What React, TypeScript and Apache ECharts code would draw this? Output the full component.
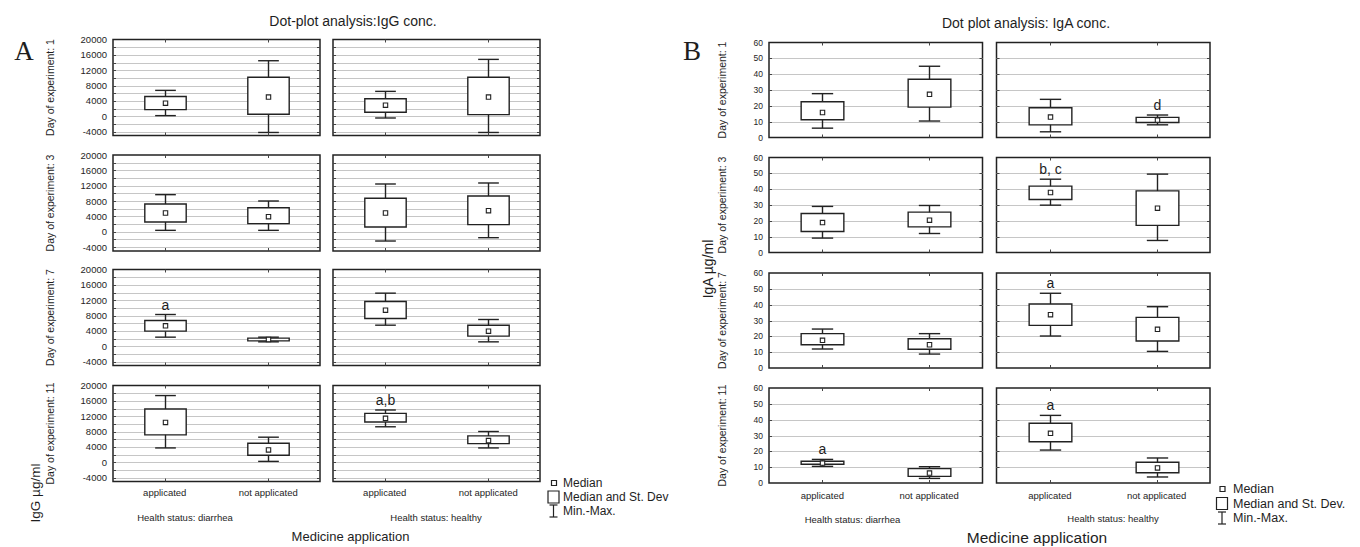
import React, { useEffect, useRef } from 'react';
import * as echarts from 'echarts';

// ---------- data ----------
const days = ['1', '3', '7', '11'];
const treatments = ['applicated', 'not applicated'];
const healthStatuses = ['diarrhea', 'healthy'];

// each entry: [min, median - SD, median, median + SD, max], per day, per treatment
const iggDiarrhea = [
  [[175, 1750, 3420, 5170, 6750], [-4210, 530, 5000, 10170, 14470]],
  [[380, 2550, 4900, 7240, 9670], [380, 2120, 3940, 6280, 8020]],
  [[2380, 3940, 5330, 6720, 8280], [1160, 1420, 1770, 2120, 2380]],
  [[3740, 7150, 10380, 13880, 17380], [240, 1820, 3220, 4960, 6540]],
];
const iggHealthy = [
  [[-440, 1050, 2890, 4560, 6490], [-4210, 440, 5000, 10170, 14820]],
  [[-2400, 1250, 4900, 8720, 12450], [-1530, 1860, 5500, 9320, 12710]],
  [[5500, 7240, 9400, 11670, 13840], [1160, 2640, 3940, 5500, 6980]],
  [[9250, 10480, 11440, 12750, 13620], [3740, 4870, 5660, 6880, 8020]],
];
const igaDiarrhea = [
  [[5.9, 11.2, 15.8, 22.6, 27.7], [10.4, 19.2, 27.3, 36.8, 45]],
  [[9.1, 13.3, 18.9, 24.6, 29.1], [12.0, 16.2, 20.4, 25.5, 29.7]],
  [[12.0, 14.7, 17.5, 21.7, 24.6], [8.8, 11.8, 14.7, 18.5, 21.7]],
  [[10.5, 11.8, 12.6, 13.7, 14.9], [2.9, 4.2, 6.3, 9.1, 10.3]],
];
const igaHealthy = [
  [[3.6, 8.0, 12.9, 18.8, 24.1], [8.0, 9.5, 11.0, 12.7, 14.2]],
  [[29.9, 33.5, 37.9, 41.9, 46.3], [7.6, 17.1, 28.0, 38.9, 49.5]],
  [[20.2, 26.9, 33.7, 40.4, 47.2], [10.5, 17.1, 24.4, 32.0, 38.7]],
  [[20.8, 26.1, 31.4, 37.7, 42.7], [3.8, 6.5, 9.5, 13.1, 15.8]],
];

const iggTickLabels = [-4000, 0, 4000, 8000, 12000, 16000, 20000];
const iggGridValues = [-4000, -2000, 0, 2000, 4000, 6000, 8000, 10000, 12000, 14000, 16000, 18000];
const igaTickLabels = [0, 10, 20, 30, 40, 50, 60];
const igaGridValues = [10, 20, 30, 40, 50];

// significance letters: [dayIndex, healthIndex, treatmentIndex, text]
const iggLetters: [number, number, number, string][] = [
  [2, 0, 0, 'a'],
  [3, 1, 0, 'a,b'],
];
const igaLetters: [number, number, number, string][] = [
  [0, 1, 1, 'd'],
  [1, 1, 0, 'b, c'],
  [2, 1, 0, 'a'],
  [3, 0, 0, 'a'],
  [3, 1, 0, 'a'],
];

// ---------- layout ----------
const FONT = '"Liberation Sans", Arial, sans-serif';
const INK = '#1e1e1e';
const LINE = '#222';

const panels = [
  {
    data: [iggDiarrhea, iggHealthy],
    letters: iggLetters,
    min: -5000, max: 20000, step: 1000,
    tickLabels: iggTickLabels,
    gridValues: iggGridValues,
    lefts: [113, 333], width: 207,
    tops: [39.5, 155, 269.5, 385.5], height: 96,
    tickFont: 9.5, tickMargin: 6, catMargin: 6,
  },
  {
    data: [igaDiarrhea, igaHealthy],
    letters: igaLetters,
    min: 0, max: 60, step: 10,
    tickLabels: igaTickLabels,
    gridValues: igaGridValues,
    lefts: [769, 996.5], width: 213.5,
    tops: [42.5, 157.5, 273, 388], height: 95,
    tickFont: 8.5, tickMargin: 6, catMargin: 7,
  },
];

function buildOption() {
  const grid: any[] = [];
  const xAxis: any[] = [];
  const yAxis: any[] = [];
  const series: any[] = [];
  let g = 0;
  panels.forEach((p) => {
    days.forEach((_, r) => {
      healthStatuses.forEach((_, c) => {
        grid.push({
          left: p.lefts[c], top: p.tops[r], width: p.width, height: p.height,
          show: true, borderColor: LINE, borderWidth: 1.5, backgroundColor: '#fff',
          containLabel: false, outerBoundsMode: 'none',
        });
        xAxis.push({
          type: 'category', gridIndex: g, data: treatments,
          axisLine: { show: false }, axisTick: { show: false }, splitLine: { show: false },
          axisLabel: { show: r === 3, fontSize: 9.5, fontFamily: FONT, color: INK, margin: p.catMargin },
        });
        yAxis.push({
          type: 'value', gridIndex: g, min: p.min, max: p.max, interval: p.step,
          axisLine: { show: false }, axisTick: { show: false }, splitLine: { show: false },
          axisLabel: {
            show: c === 0, fontSize: p.tickFont, fontFamily: FONT, color: INK, margin: p.tickMargin,
            formatter: (v: number) => (p.tickLabels.indexOf(v) >= 0 ? String(v) : ''),
          },
        });
        // gridlines + side ticks
        series.push({
          type: 'custom', xAxisIndex: g, yAxisIndex: g, z: 1, silent: true,
          data: p.gridValues.map((v) => [0, v]),
          encode: { x: 0, y: 1 },
          renderItem: (params: any, api: any) => {
            const cs = params.coordSys;
            const y = Math.round(api.coord([0, api.value(1)])[1]) + 0.5;
            return {
              type: 'group',
              children: [
                { type: 'line', shape: { x1: cs.x, y1: y, x2: cs.x + cs.width, y2: y }, style: { stroke: '#c6c6c6', lineWidth: 1 } },
                { type: 'line', shape: { x1: cs.x, y1: y, x2: cs.x + 3, y2: y }, style: { stroke: '#444', lineWidth: 1 } },
                { type: 'line', shape: { x1: cs.x + cs.width - 3, y1: y, x2: cs.x + cs.width, y2: y }, style: { stroke: '#444', lineWidth: 1 } },
              ],
            };
          },
        });
        const vals = p.data[c][r];
        const rr = r, cc = c;
        series.push({
          type: 'custom', xAxisIndex: g, yAxisIndex: g, z: 3, silent: true,
          data: treatments.map((_, t) => [t, ...vals[t]]),
          encode: { x: 0, y: [1, 2, 3, 4, 5] },
          renderItem: (params: any, api: any) => {
            const cs = params.coordSys;
            const t = api.value(0);
            const cx = Math.round(api.coord([t, 0])[0]) + 0.5;
            const yMin = api.coord([t, api.value(1)])[1];
            const yLo = api.coord([t, api.value(2)])[1];
            const yMed = api.coord([t, api.value(3)])[1];
            const yHi = api.coord([t, api.value(4)])[1];
            const yMax = api.coord([t, api.value(5)])[1];
            const band = api.size([1, 0])[0];
            const bw = band * 0.4;
            const cw = band * 0.2;
            const st = { stroke: LINE, lineWidth: 1.4, fill: 'none' };
            const children: any[] = [
              { type: 'line', shape: { x1: cx, y1: yMax, x2: cx, y2: yMin }, style: st },
              { type: 'line', shape: { x1: cx - cw / 2, y1: yMax, x2: cx + cw / 2, y2: yMax }, style: st },
              { type: 'line', shape: { x1: cx - cw / 2, y1: yMin, x2: cx + cw / 2, y2: yMin }, style: st },
              { type: 'rect', shape: { x: cx - bw / 2, y: yHi, width: bw, height: yLo - yHi }, style: { stroke: LINE, lineWidth: 1.4, fill: '#fff' } },
              { type: 'rect', shape: { x: cx - 2.2, y: yMed - 2.2, width: 4.4, height: 4.4 }, style: { stroke: LINE, lineWidth: 1.1, fill: '#fff' } },
              { type: 'line', shape: { x1: cx, y1: cs.y, x2: cx, y2: cs.y + 3 }, style: { stroke: '#444', lineWidth: 1 } },
              { type: 'line', shape: { x1: cx, y1: cs.y + cs.height - 3, x2: cx, y2: cs.y + cs.height }, style: { stroke: '#444', lineWidth: 1 } },
            ];
            const letter = p.letters.find((l) => l[0] === rr && l[1] === cc && l[2] === t);
            if (letter) {
              children.push({
                type: 'text', x: cx, y: yMax - 10,
                style: { text: letter[3], fontSize: 14, fontFamily: FONT, fill: INK, align: 'center', verticalAlign: 'middle' },
              });
            }
            return { type: 'group', children };
          },
        });
        g++;
      });
    });
  });

  const txt = (text: string, x: number, y: number, fontSize: number, opts: any = {}) => ({
    type: 'text', x, y, rotation: opts.rotation || 0, silent: true,
    style: {
      text, fontSize, fontFamily: opts.family || FONT, fill: INK,
      align: opts.align || 'center', verticalAlign: 'middle',
    },
  });
  const R = Math.PI / 2;
  const graphic: any[] = [
    txt('A', 24, 51, 27, { family: '"Liberation Serif", "Times New Roman", serif' }),
    txt('B', 692, 51, 27, { family: '"Liberation Serif", "Times New Roman", serif' }),
    txt('Dot-plot analysis:IgG conc.', 353, 21, 14),
    txt('Dot plot analysis: IgA conc.', 1026, 22.5, 14),
    txt('IgG µg/ml', 35, 493, 13.5, { rotation: R }),
    txt('IgA µg/ml', 708, 269, 14, { rotation: R }),
    txt('Medicine application', 350.5, 536, 13),
    txt('Medicine application', 1037, 537, 15.5),
    txt('Health status: ' + healthStatuses[0], 185, 517, 9.5),
    txt('Health status: ' + healthStatuses[1], 436, 517, 9.5),
    txt('Health status: ' + healthStatuses[0], 852.5, 519, 9.5),
    txt('Health status: ' + healthStatuses[1], 1113, 518.5, 9.5),
  ];
  const dayX = [49.5, 722];
  panels.forEach((p, pi) => {
    days.forEach((d, r) => {
      graphic.push(txt('Day of experiment: ' + d, dayX[pi], p.tops[r] + p.height / 2, 10.5, { rotation: R }));
    });
  });
  // legends
  const legend = (x0: number, y0: number, tx: number, dy: number, fs: number, second: string) => {
    const st = { stroke: LINE, lineWidth: 1.2, fill: '#fff' };
    graphic.push(
      { type: 'rect', silent: true, shape: { x: x0 + 3.5, y: y0 - 2.5, width: 5, height: 5 }, style: st },
      { type: 'rect', silent: true, shape: { x: x0, y: y0 + dy - 6, width: 11, height: 12 }, style: st },
      { type: 'line', silent: true, shape: { x1: x0 + 5.5, y1: y0 + 2 * dy - 6, x2: x0 + 5.5, y2: y0 + 2 * dy + 6 }, style: st },
      { type: 'line', silent: true, shape: { x1: x0 + 1.5, y1: y0 + 2 * dy - 6, x2: x0 + 9.5, y2: y0 + 2 * dy - 6 }, style: st },
      { type: 'line', silent: true, shape: { x1: x0 + 1.5, y1: y0 + 2 * dy + 6, x2: x0 + 9.5, y2: y0 + 2 * dy + 6 }, style: st },
      txt('Median', tx, y0, fs, { align: 'left' }),
      txt(second, tx, y0 + dy, fs, { align: 'left' }),
      txt('Min.-Max.', tx, y0 + 2 * dy, fs, { align: 'left' }),
    );
  };
  legend(548, 483, 563, 14, 12, 'Median and St. Dev');
  legend(1216.5, 489, 1233, 14.5, 12.5, 'Median and St. Dev.');

  return { animation: false, backgroundColor: '#fff', grid, xAxis, yAxis, series, graphic };
}

export default function App() {
  const ref = useRef<HTMLDivElement>(null);
  useEffect(() => {
    if (!ref.current) return;
    const chart = echarts.init(ref.current, undefined, { renderer: 'svg' });
    chart.setOption(buildOption() as any);
    return () => chart.dispose();
  }, []);
  return <div ref={ref} style={{ position: 'absolute', left: 0, top: 0, width: 1360, height: 547 }} />;
}
